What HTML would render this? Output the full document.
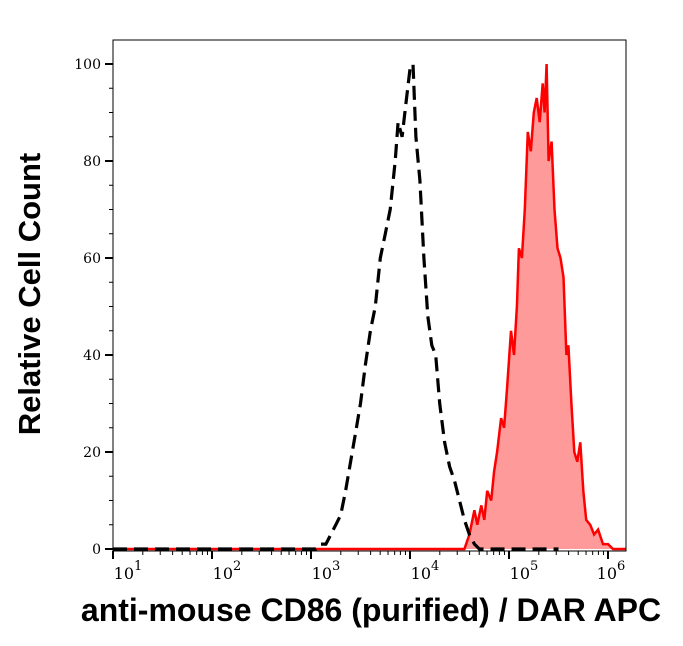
<!DOCTYPE html>
<html><head><meta charset="utf-8"><style>
body{margin:0;background:#fff;width:683px;height:641px;overflow:hidden}
svg text{font-family:"DejaVu Serif","Liberation Serif",serif}
</style></head><body>
<svg id="chart" width="683" height="641">
<text x="40" y="294" transform="rotate(-90 40 294)" text-anchor="middle" font-weight="bold" font-size="31" style="font-family:'Liberation Sans',sans-serif">Relative Cell Count</text>
<text x="371" y="621" text-anchor="middle" font-weight="bold" font-size="32" style="font-family:'Liberation Sans',sans-serif">anti-mouse CD86 (purified) / DAR APC</text>
</svg>
<script>
const isoX=[3.0,3.05,3.1,3.15,3.2,3.25,3.3,3.35,3.4,3.45,3.5,3.55,3.6,3.65,3.7,3.75,3.8,3.85,3.88,3.92,3.96,4.0,4.03,4.06,4.1,4.14,4.18,4.22,4.26,4.3,4.35,4.4,4.45,4.5,4.55,4.6,4.65,4.7,4.8,5.0,5.3,5.5];
const isoY=[0,0,1,1,3,5,7,12,18,24,30,38,45,50,60,65,70,80,88,85,92,99,100,85,76,60,48,42,40,30,22,17,14,10,6,3,1,0,0,0,0,0];
const posX=[1.0,4.55,4.6,4.65,4.68,4.72,4.75,4.78,4.82,4.85,4.88,4.92,4.95,4.98,5.02,5.05,5.08,5.1,5.13,5.16,5.19,5.22,5.25,5.28,5.31,5.34,5.36,5.38,5.4,5.43,5.46,5.49,5.52,5.55,5.58,5.6,5.63,5.66,5.69,5.72,5.75,5.78,5.82,5.86,5.9,5.95,6.0,6.05];
const posY=[0,0,3,8,5,9,6,12,10,16,20,27,25,33,45,40,50,62,60,70,86,82,90,93,88,96,90,100,80,84,70,62,60,56,40,42,30,20,18,22,12,6,5,3,4,1,1,0];
const yTicks=[0,20,40,60,80,100];
const xExps=[1,2,3,4,5,6];
const NS="http://www.w3.org/2000/svg";
const svg=document.getElementById('chart');
const L=113,R=626,T=40,B=551;
const xs=v=>L+(v-1)*99;
const ys=v=>549-v*4.85;
function mk(t,a,p){const e=document.createElementNS(NS,t);for(const k in a)e.setAttribute(k,a[k]);(p||svg).appendChild(e);return e;}
let d='M'+xs(posX[0])+','+ys(0);
posX.forEach((x,i)=>d+=' L'+xs(x).toFixed(1)+','+ys(posY[i]).toFixed(1));
d+=' L'+R+','+ys(0);
const fill=mk('path',{d:d+' Z',fill:'#ff9a9a',stroke:'none'});


const line=mk('path',{d:d,fill:'none',stroke:'#ff0000','stroke-width':2.5});


let d2='M'+L+','+ys(0);
isoX.forEach((x,i)=>d2+=' L'+xs(x).toFixed(1)+','+ys(isoY[i]).toFixed(1));
const iso=mk('path',{d:d2,fill:'none',stroke:'#000','stroke-width':3.2,'stroke-dasharray':'14,7'});


const fr=mk('rect',{x:L,y:T,width:R-L,height:B-T,fill:'none',stroke:'#000','stroke-width':1});


for(let v=0;v<=100;v+=5){
 const major=v%20===0;
 mk('line',{x1:L-(major?8:4),x2:L,y1:ys(v),y2:ys(v),stroke:'#000','stroke-width':major?2:1});
}
yTicks.forEach(v=>{
 const t=mk('text',{x:L-12,y:ys(v)+5,'text-anchor':'end','font-size':14});
 t.textContent=v;
 
 
});
for(let e=0;e<6;e++){
 for(let m=1;m<10;m++){
  const v=e+1+Math.log10(m);
  if(v>6.2)break;
  const x=xs(v);
  mk('line',{x1:x,x2:x,y1:B,y2:B+(m===1?8:4),stroke:'#000','stroke-width':m===1?2:1});
 }
}
xExps.forEach(e=>{
 const t=mk('text',{x:xs(e)+(e===6?3:15),y:B+28,'text-anchor':'middle','font-size':16});
 
 
 t.textContent='10';
 const s=mk('tspan',{dy:-9,'font-size':13},t);s.textContent=e;
});
</script>
</body></html>
